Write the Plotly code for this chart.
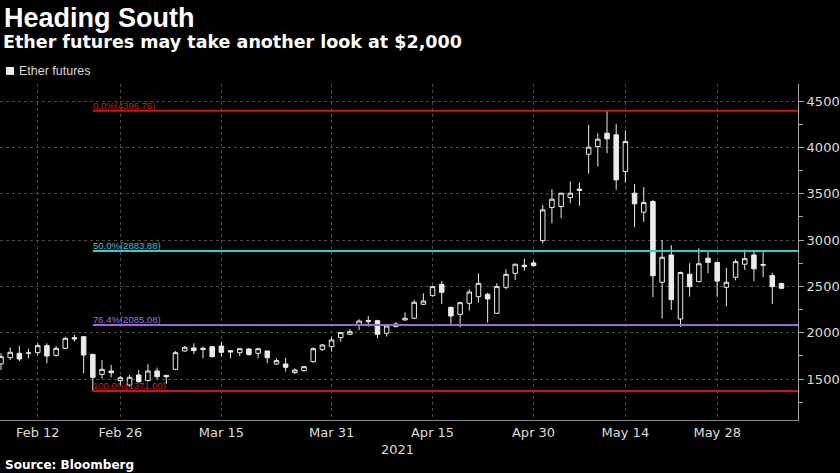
import pandas as pd
import plotly.graph_objects as go

# ---- categories: trading days (weekdays, exchange holidays removed) ----
days = pd.bdate_range("2021-02-08", "2021-06-09")
days = [d.strftime("%Y-%m-%d") for d in days if d.strftime("%Y-%m-%d") not in ("2021-02-15", "2021-05-31")]

# ---- series values ----
opens = [1663, 1731, 1778, 1778, 1785, 1861, 1756, 1832, 1947, 1958,
         1767, 1551, 1587, 1483, 1436, 1544, 1483, 1587, 1540, 1605,
         1803, 1836, 1832, 1850, 1857, 1807, 1785, 1825, 1778, 1803,
         1663, 1663, 1569, 1591, 1688, 1821, 1850, 1947, 1983, 2084,
         2120, 2131, 1994, 2066, 2138, 2156, 2307, 2401, 2523, 2275,
         2199, 2318, 2390, 2415, 2210, 2491, 2642, 2729, 2754, 2995,
         3352, 3363, 3460, 3536, 3928, 4011, 4155, 4137, 3741, 3507,
         3302, 3417, 2545, 2840, 2149, 2632, 2552, 2805, 2758, 2491,
         2599, 2740, 2840, 2736, 2617, 2531]
highs = [1778, 1843, 1857, 1828, 1886, 1886, 1857, 1958, 1976, 1965,
         1770, 1706, 1652, 1533, 1544, 1598, 1663, 1623, 1544, 1803,
         1857, 1886, 1850, 1857, 1904, 1814, 1836, 1836, 1836, 1806,
         1724, 1731, 1616, 1641, 1843, 1879, 1958, 2003, 2041, 2145,
         2181, 2140, 2084, 2113, 2221, 2354, 2426, 2509, 2559, 2280,
         2336, 2469, 2642, 2433, 2534, 2686, 2745, 2801, 2779, 3381,
         3550, 3510, 3633, 3622, 4245, 4155, 4396.76, 4256, 4184, 3608,
         3572, 3435, 3003, 2945, 2660, 2751, 2913, 2880, 2770, 2700,
         2794, 2897, 2877, 2875, 2645, 2541]
lows = [1598, 1706, 1695, 1724, 1760, 1670, 1742, 1821, 1904, 1562,
        1371, 1508, 1519, 1436, 1418, 1461, 1472, 1497, 1447, 1598,
        1796, 1771, 1724, 1735, 1742, 1724, 1749, 1756, 1724, 1670,
        1652, 1580, 1555, 1580, 1677, 1803, 1796, 1904, 1976, 2030,
        2066, 1940, 1958, 2059, 2131, 2150, 2300, 2390, 2311, 2084,
        2059, 2239, 2325, 2109, 2205, 2469, 2570, 2671, 2714, 2967,
        3183, 3237, 3399, 3370, 3716, 3795, 3939, 3543, 3622, 3140,
        3197, 2385, 2152, 2246, 2062, 2390, 2548, 2643, 2390, 2285,
        2567, 2679, 2556, 2600, 2311, 2473]
closes = [1742, 1789, 1717, 1782, 1861, 1749, 1832, 1940, 1933, 1760,
          1519, 1605, 1569, 1515, 1519, 1472, 1587, 1526, 1526, 1785,
          1843, 1807, 1821, 1742, 1789, 1792, 1828, 1764, 1828, 1731,
          1699, 1627, 1598, 1634, 1828, 1868, 1922, 2001, 2012, 2127,
          2131, 1983, 2073, 2095, 2156, 2329, 2343, 2498, 2437, 2181,
          2325, 2440, 2534, 2365, 2498, 2631, 2740, 2714, 2725, 3327,
          3442, 3507, 3507, 3550, 4004, 4090, 4094, 3651, 4065, 3392,
          3406, 2616, 2815, 2358, 2650, 2498, 2745, 2760, 2558, 2545,
          2768, 2800, 2690, 2731, 2498, 2480]

# ---- retracement levels ----
fib_labels = ["0.0%(4396.76)", "50.0%(2883.88)", "76.4%(2085.08)", "100.0%(1371.00)"]
fib_levels = [4396.76, 2883.88, 2085.08, 1371.00]
fib_colors = ["#c8161c", "#3ec9c9", "#a066dc", "#c8161c"]
fib_text_colors = ["#c42020", "#44c4c4", "#a272dc", "#c42020"]
fib_start = "2021-02-23"

# ---- tick labels ----
x_tick_dates = ["2021-02-12", "2021-02-26", "2021-03-15", "2021-03-31",
                "2021-04-15", "2021-04-30", "2021-05-14", "2021-05-28"]
x_tick_text = ["Feb 12", "Feb 26", "Mar 15", "Mar 31", "Apr 15", "Apr 30", "May 14", "May 28"]
y_tick_vals = [1500, 2000, 2500, 3000, 3500, 4000, 4500]

CANDLE = "#ececec"

fig = go.Figure()
fig.add_trace(go.Candlestick(
    x=days, open=opens, high=highs, low=lows, close=closes,
    name="Ether futures",
    increasing=dict(line=dict(color=CANDLE, width=1), fillcolor="#000000"),
    decreasing=dict(line=dict(color=CANDLE, width=1), fillcolor=CANDLE),
    showlegend=False,
))

x_end = len(days) + 0.8
x_start_idx = days.index(fib_start)
for lab, lvl, col, tcol in zip(fib_labels, fib_levels, fib_colors, fib_text_colors):
    fig.add_shape(type="line", xref="x", yref="y", x0=x_start_idx, x1=x_end,
                  y0=lvl, y1=lvl, line=dict(color=col, width=2), layer="above")
    fig.add_annotation(x=x_start_idx - 0.05, y=lvl, xref="x", yref="y", text=lab,
                       showarrow=False, xanchor="left", yanchor="bottom",
                       font=dict(family="Liberation Sans", size=9.5, color=tcol),
                       borderpad=0, yshift=-1)

# title, subtitle, legend, source
fig.add_annotation(x=0.002, y=1.196, xref="paper", yref="paper", text="<b>Heading South</b>",
                   showarrow=False, xanchor="left", yanchor="middle",
                   font=dict(family="Liberation Sans", size=27, color="#ffffff"))
fig.add_annotation(x=0.001, y=1.126, xref="paper", yref="paper",
                   text="<b>Ether futures may take another look at $2,000</b>",
                   showarrow=False, xanchor="left", yanchor="middle",
                   font=dict(family="DejaVu Sans", size=17.5, color="#ffffff"))
fig.add_shape(type="rect", xref="paper", yref="paper", x0=0.0075, x1=0.0175, y0=1.027, y1=1.0506,
              fillcolor="#f0f0f0", line=dict(width=0))
fig.add_annotation(x=0.0215, y=1.039, xref="paper", yref="paper", text="Ether futures",
                   showarrow=False, xanchor="left", yanchor="middle",
                   font=dict(family="Liberation Sans", size=12.5, color="#d8d8d8"))
fig.add_annotation(x=0.4987, y=-0.089, xref="paper", yref="paper", text="2021",
                   showarrow=False, xanchor="center", yanchor="middle",
                   font=dict(family="DejaVu Sans", size=13, color="#dcdcdc"))
fig.add_annotation(x=0.004, y=-0.134, xref="paper", yref="paper", text="<b>Source: Bloomberg</b>",
                   showarrow=False, xanchor="left", yanchor="middle",
                   font=dict(family="DejaVu Sans", size=12, color="#ffffff"))

fig.update_layout(
    width=840, height=473,
    paper_bgcolor="#000000", plot_bgcolor="#000000",
    margin=dict(l=0, r=42, t=84, b=53),
    showlegend=False,
    xaxis=dict(
        type="category", range=[-0.11, x_end],
        tickmode="array", tickvals=x_tick_dates, ticktext=x_tick_text,
        showgrid=True, gridcolor="#4a4a4a", griddash="dot", gridwidth=1,
        showline=True, linecolor="#8a8a8a", linewidth=1,
        ticks="", tickfont=dict(family="DejaVu Sans", size=13, color="#dcdcdc"),
        rangeslider=dict(visible=False), fixedrange=True,
    ),
    yaxis=dict(
        side="right", range=[1058, 4686],
        tickmode="array", tickvals=y_tick_vals,
        showgrid=True, gridcolor="#4a4a4a", griddash="dot", gridwidth=1,
        showline=True, linecolor="#a8a8a8", linewidth=1,
        ticks="outside", ticklen=5, tickcolor="#a8a8a8",
        minor=dict(tickmode="linear", tick0=1000, dtick=250, ticks="outside",
                   ticklen=4, tickcolor="#a8a8a8", showgrid=False),
        tickfont=dict(family="DejaVu Sans", size=13, color="#dcdcdc"),
        zeroline=False, fixedrange=True,
    ),
)

fig.write_html("out.html", config={"displayModeBar": False},
               post_script="document.body.style.margin='0';document.body.style.padding='0';document.body.style.background='#000';")
